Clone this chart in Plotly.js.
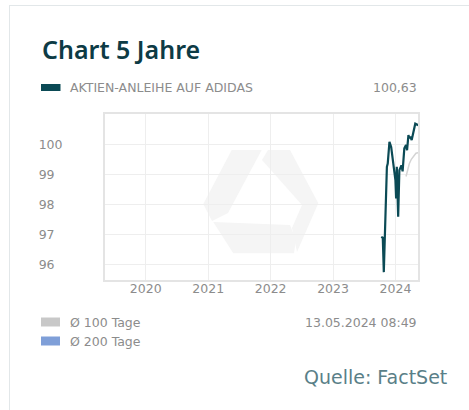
<!DOCTYPE html>
<html>
<head>
<meta charset="utf-8">
<script src="https://cdn.plot.ly/plotly-3.0.1.min.js"></script>
<style>
html,body{margin:0;padding:0;background:#fff;}
#chart{width:469px;height:410px;}
</style>
</head>
<body>
<div id="chart"></div>
<script>
// ---- data ----
const seriesName = "AKTIEN-ANLEIHE AUF ADIDAS";
const lastValue = "100,63";
const timestamp = "13.05.2024 08:49";
const priceDates = ["2023-10-10","2023-10-19","2023-10-25","2023-11-08","2023-11-12","2023-11-17","2023-11-27","2023-12-07","2023-12-20","2024-01-01","2024-01-05","2024-01-09","2024-01-17","2024-01-24","2024-02-05","2024-02-12","2024-02-22","2024-03-03","2024-03-09","2024-03-17","2024-03-22","2024-03-28","2024-04-05","2024-04-15","2024-04-20","2024-04-26","2024-05-13"];
const priceValues = [96.93,96.90,95.76,98.60,99.25,99.36,100.08,99.91,99.36,98.80,98.20,99.25,97.60,99.14,99.30,99.10,99.86,99.97,99.80,100.30,100.20,100.25,100.14,100.41,100.52,100.68,100.63];
const ma100Dates = ["2024-03-03","2024-03-11","2024-03-22","2024-04-03","2024-04-15","2024-04-30","2024-05-13"];
const ma100Values = [98.93,99.10,99.35,99.50,99.60,99.70,99.72];
const ma200Dates = [];
const ma200Values = [];
const yTicks = [96,97,98,99,100];
const legendLabels = ["Ø 100 Tage","Ø 200 Tage"];
const sourceText = "Quelle: FactSet";
const titleText = "Chart 5 Jahre";

// ---- layout geometry ----
const W = 469, H = 410;
const ml = 105, mr = 51, mt = 114, mb = 130;
const pw = W - ml - mr, ph = H - mt - mb;
const px = x => (x - ml) / pw;
const py = y => (H - mb - y) / ph;

const DARK = "#0b4a55";
const GRAY_TXT = "#8c8c8c";
const TICKFONT = {family: "DejaVu Sans", size: 12.5, color: GRAY_TXT};

const traces = [
  {x: ma100Dates, y: ma100Values, type: "scatter", mode: "lines", line: {color: "#d4d4d4", width: 1.5}, hoverinfo: "skip"},
  {x: ma200Dates, y: ma200Values, type: "scatter", mode: "lines", line: {color: "#7f9fd8", width: 1.5}, hoverinfo: "skip"},
  {x: priceDates, y: priceValues, type: "scatter", mode: "lines", line: {color: DARK, width: 2.2}, name: seriesName}
];

function poly(pts) {
  return "M" + pts.map(p => px(p[0]).toFixed(4) + "," + py(p[1]).toFixed(4)).join(" L") + " Z";
}
const logoColor = "#f5f5f5";
const logoPieces = [
  [[231.7,150],[261.7,150],[228,213],[212,221],[203.3,204]],
  [[268,150],[290,150],[318.3,203.3],[297,252],[292,228],[302,205],[262,160]],
  [[213.3,222],[290,225],[296,240],[294,253.3],[233.3,253.3]]
];

const shapes = [];
logoPieces.forEach(p => shapes.push({type: "path", xref: "paper", yref: "paper", path: poly(p), fillcolor: logoColor, line: {width: 0}, layer: "below"}));
// card border
shapes.push({type: "line", xref: "paper", yref: "paper", x0: px(9.5), x1: px(9.5), y0: py(5), y1: py(410), line: {color: "#e2e7e9", width: 1}});
shapes.push({type: "line", xref: "paper", yref: "paper", x0: px(9), x1: px(469), y0: py(5.5), y1: py(5.5), line: {color: "#e2e7e9", width: 1}});
// legend swatches
shapes.push({type: "rect", xref: "paper", yref: "paper", x0: px(41), x1: px(60.5), y0: py(84), y1: py(91), fillcolor: DARK, line: {width: 0}});
shapes.push({type: "rect", xref: "paper", yref: "paper", x0: px(41), x1: px(60), y0: py(317.5), y1: py(326.5), fillcolor: "#c8c8c8", line: {width: 0}});
shapes.push({type: "rect", xref: "paper", yref: "paper", x0: px(41), x1: px(60), y0: py(336.5), y1: py(345.5), fillcolor: "#7f9fd8", line: {width: 0}});

const annotations = [
  {xref: "paper", yref: "paper", x: px(40), y: py(49), xanchor: "left", yanchor: "middle", text: titleText, showarrow: false,
   font: {family: "Noto Sans", size: 25, weight: 600, color: "#0d3b45"}},
  {xref: "paper", yref: "paper", x: px(68), y: py(87.5), xanchor: "left", yanchor: "middle", text: seriesName, showarrow: false, font: TICKFONT},
  {xref: "paper", yref: "paper", x: px(419), y: py(87.5), xanchor: "right", yanchor: "middle", text: lastValue, showarrow: false, font: TICKFONT},
  {xref: "paper", yref: "paper", x: px(68), y: py(322), xanchor: "left", yanchor: "middle", text: legendLabels[0], showarrow: false, font: TICKFONT},
  {xref: "paper", yref: "paper", x: px(68), y: py(341), xanchor: "left", yanchor: "middle", text: legendLabels[1], showarrow: false, font: TICKFONT},
  {xref: "paper", yref: "paper", x: px(419), y: py(322), xanchor: "right", yanchor: "middle", text: timestamp, showarrow: false, font: TICKFONT},
  {xref: "paper", yref: "paper", x: px(449), y: py(377), xanchor: "right", yanchor: "middle", text: sourceText, showarrow: false,
   font: {family: "DejaVu Sans", size: 19, color: "#5a7f88"}}
];

const layout = {
  width: W, height: H,
  margin: {l: ml, r: mr, t: mt, b: mb, pad: 0},
  paper_bgcolor: "#ffffff", plot_bgcolor: "#ffffff",
  showlegend: false,
  xaxis: {
    type: "date", range: ["2019-05-08", "2024-05-12"],
    dtick: "M12", tick0: "2020-01-01", tickformat: "%Y",
    showgrid: true, gridcolor: "#eeeeee", gridwidth: 1,
    showline: true, mirror: true, linecolor: "#e4e4e4", linewidth: 2,
    ticks: "", tickfont: TICKFONT, ticklabelstandoff: -4, zeroline: false, fixedrange: true
  },
  yaxis: {
    range: [95.5, 101.0],
    tickvals: yTicks, ticktext: yTicks.map(v => String(v) + (v < 100 ? "\u2007" : "")),
    showgrid: true, gridcolor: "#eeeeee", gridwidth: 1,
    showline: true, mirror: true, linecolor: "#e4e4e4", linewidth: 2,
    ticks: "", tickfont: TICKFONT, ticklabelstandoff: 38, zeroline: false, fixedrange: true
  },
  shapes: shapes,
  annotations: annotations
};

Plotly.newPlot("chart", traces, layout, {displayModeBar: false, staticPlot: true});
</script>
</body>
</html>
